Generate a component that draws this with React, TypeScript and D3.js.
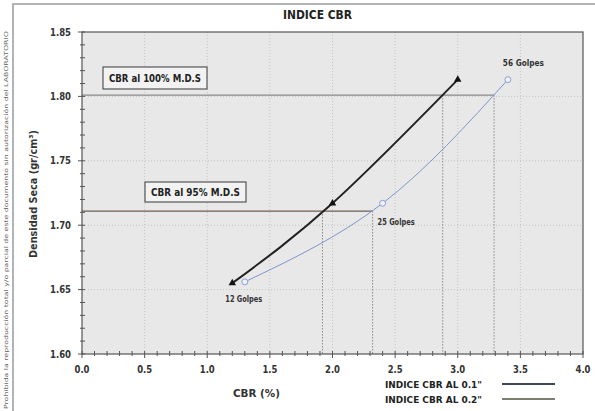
import React from 'react';
import * as d3 from 'd3';

// valores
const xTicks = [0, 0.5, 1.0, 1.5, 2.0, 2.5, 3.0, 3.5, 4.0];
const yTicks = [1.6, 1.65, 1.7, 1.75, 1.8, 1.85];
const cbr01 = [1.2, 2.0, 3.0];
const dens01 = [1.655, 1.717, 1.813];
const cbr02 = [1.3, 2.4, 3.4];
const dens02 = [1.656, 1.717, 1.813];
const golpes = ['12 Golpes', '25 Golpes', '56 Golpes'];
const mdsLevels = [1.801, 1.711];
const mdsLabels = ['CBR al 100% M.D.S', 'CBR al 95% M.D.S'];
const cbrAtMds01 = [2.88, 1.92];
const cbrAtMds02 = [3.29, 2.32];
const legendLabels = ['INDICE CBR AL 0.1"', 'INDICE CBR AL 0.2"'];

const W = 595;
const H = 411;
const font = '"DejaVu Sans", "Liberation Sans", sans-serif';

// posiciones y anchos de las etiquetas (estilo)
const golpesOffset = [
    [-7, 19],
    [-5, 22],
    [-5, -14],
];
const golpesWidth = [37, 37, 41];
const boxPos = [
    { x: 103, y: 67, w: 104, h: 22, tw: 92 },
    { x: 145, y: 182, w: 101, h: 20, tw: 89 },
];
const legendColors = ['#3d4660', '#7d8070'];

const App: React.FC = () => {
    const x = d3.scaleLinear().domain([0, 4]).range([82, 583]);
    const y = d3.scaleLinear().domain([1.6, 1.85]).range([354, 32]);

    const pts01 = cbr01.map((c, i) => [x(c), y(dens01[i])] as [number, number]);
    const pts02 = cbr02.map((c, i) => [x(c), y(dens02[i])] as [number, number]);
    const line = d3.line().curve(d3.curveNatural);

    const xMinor = d3.range(0, 4.0001, 0.1);
    const yMinor = d3.range(1.6, 1.8501, 0.01);
    const tri = d3.symbol().type(d3.symbolTriangle).size(24)();

    return (
        <svg width={W} height={H} style={{ position: 'absolute', left: 0, top: 0, background: '#fff' }} fontFamily={font}>
            {/* marco exterior */}
            <path d={`M13,${H} V4 H${W}`} fill="none" stroke="#9a9a9a" strokeWidth={1.5} />
            <text
                transform={`translate(7.5,${H - 2}) rotate(-90)`}
                fontSize={5.5}
                fill="#666"
                textLength={378}
                lengthAdjust="spacingAndGlyphs"
            >
                Prohibida la reproducción total y/o parcial de este documento sin autorización del LABORATORIO
            </text>

            <text x={283} y={19} fontSize={11.5} fontWeight="bold" fill="#222" textLength={69} lengthAdjust="spacingAndGlyphs">
                INDICE CBR
            </text>

            {/* area del grafico */}
            <rect x={x(0)} y={y(1.85)} width={x(4) - x(0)} height={y(1.6) - y(1.85)} fill="#e8e8e8" />

            {xTicks.slice(1, -1).map((t) => (
                <line key={'gx' + t} x1={x(t)} x2={x(t)} y1={y(1.85)} y2={y(1.6)} stroke="#c4c4c4" strokeDasharray="1,2" />
            ))}
            {yTicks.slice(1, -1).map((t) => (
                <line key={'gy' + t} x1={x(0)} x2={x(4)} y1={y(t)} y2={y(t)} stroke="#c4c4c4" strokeDasharray="1,2" />
            ))}

            {/* lineas de M.D.S */}
            {mdsLevels.map((m, i) => (
                <g key={'mds' + i}>
                    <line
                        x1={x(0)}
                        x2={x(cbrAtMds02[i])}
                        y1={y(m)}
                        y2={y(m)}
                        stroke={i === 0 ? '#8a8a8a' : '#6e5e55'}
                        strokeWidth={1.2}
                    />
                    <line x1={x(cbrAtMds01[i])} x2={x(cbrAtMds01[i])} y1={y(m)} y2={y(1.6)} stroke="#8a8a8a" strokeDasharray="1.5,1.5" />
                    <line x1={x(cbrAtMds02[i])} x2={x(cbrAtMds02[i])} y1={y(m)} y2={y(1.6)} stroke="#8a8a8a" strokeDasharray="1.5,1.5" />
                    <rect
                        x={boxPos[i].x}
                        y={boxPos[i].y}
                        width={boxPos[i].w}
                        height={boxPos[i].h}
                        fill="#f2f2f2"
                        stroke="#555"
                        strokeWidth={1.2}
                    />
                    <text
                        x={boxPos[i].x + (boxPos[i].w - boxPos[i].tw) / 2}
                        y={boxPos[i].y + boxPos[i].h / 2 + 3.5}
                        fontSize={10}
                        fontWeight="bold"
                        fill="#222"
                        textLength={boxPos[i].tw}
                        lengthAdjust="spacingAndGlyphs"
                    >
                        {mdsLabels[i]}
                    </text>
                </g>
            ))}

            {/* curvas */}
            <path d={line(pts02) || ''} fill="none" stroke="#7f96c8" strokeWidth={1} />
            <path d={line(pts01) || ''} fill="none" stroke="#222" strokeWidth={2} />
            {pts02.map((p, i) => (
                <circle key={'c' + i} cx={p[0]} cy={p[1]} r={3} fill="#eef1f8" stroke="#8aa0d0" strokeWidth={1} />
            ))}
            {pts01.map((p, i) => (
                <path key={'t' + i} d={tri || ''} transform={`translate(${p[0]},${p[1]})`} fill="#111" />
            ))}

            {golpes.map((g, i) => {
                const p = i === 0 ? pts01[0] : pts02[i];
                return (
                    <text
                        key={g}
                        x={p[0] + golpesOffset[i][0]}
                        y={p[1] + golpesOffset[i][1]}
                        fontSize={8}
                        fontWeight="bold"
                        fill="#333"
                        textLength={golpesWidth[i]}
                        lengthAdjust="spacingAndGlyphs"
                    >
                        {g}
                    </text>
                );
            })}

            {/* ejes */}
            <rect x={x(0)} y={y(1.85)} width={x(4) - x(0)} height={y(1.6) - y(1.85)} fill="none" stroke="#555" strokeWidth={1.2} />
            {xMinor.map((t, i) => (
                <line key={'xm' + i} x1={x(t)} x2={x(t)} y1={y(1.6) - 3} y2={y(1.6) + (i % 5 === 0 ? 4 : 2)} stroke="#555" />
            ))}
            {yMinor.map((t, i) => (
                <line key={'ym' + i} x1={x(0) - (i % 5 === 0 ? 4 : 2)} x2={x(0) + 3} y1={y(t)} y2={y(t)} stroke="#555" />
            ))}
            {xTicks.map((t) => (
                <text
                    key={'xl' + t}
                    x={x(t) - 7.5}
                    y={y(1.6) + 19}
                    fontSize={10}
                    fontWeight="bold"
                    fill="#333"
                    textLength={15}
                    lengthAdjust="spacingAndGlyphs"
                >
                    {d3.format('.1f')(t)}
                </text>
            ))}
            {yTicks.map((t) => (
                <text
                    key={'yl' + t}
                    x={x(0) - 32}
                    y={y(t) + 3.5}
                    fontSize={10}
                    fontWeight="bold"
                    fill="#333"
                    textLength={21}
                    lengthAdjust="spacingAndGlyphs"
                >
                    {d3.format('.2f')(t)}
                </text>
            ))}

            <text x={233} y={397} fontSize={10.5} fontWeight="bold" fill="#333" textLength={47} lengthAdjust="spacingAndGlyphs">
                CBR  (%)
            </text>
            <text
                transform="translate(37,258) rotate(-90)"
                fontSize={10.5}
                fontWeight="bold"
                fill="#333"
                textLength={128}
                lengthAdjust="spacingAndGlyphs"
            >
                Densidad Seca (gr/cm³)
            </text>

            {/* leyenda */}
            {legendLabels.map((l, i) => (
                <g key={l}>
                    <text
                        x={385}
                        y={388 + i * 15}
                        fontSize={8.5}
                        fontWeight="bold"
                        fill="#222"
                        textLength={97}
                        lengthAdjust="spacingAndGlyphs"
                    >
                        {l}
                    </text>
                    <line x1={502} x2={555} y1={384 + i * 15} y2={384 + i * 15} stroke={legendColors[i]} strokeWidth={2} />
                </g>
            ))}
        </svg>
    );
};

export default App;
